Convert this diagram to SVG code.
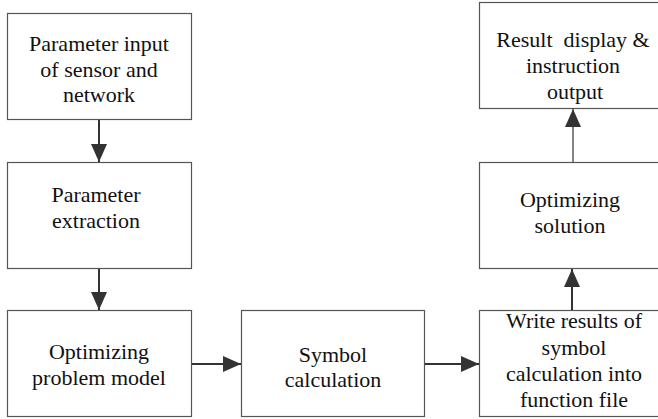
<svg xmlns="http://www.w3.org/2000/svg" width="658" height="419" viewBox="0 0 658 419">
<defs>
<style>
.box{fill:#fff;stroke:#555;stroke-width:1.2}
.t{font-family:'Liberation Serif','Times New Roman',Times,Tinos,'DejaVu Serif',serif;font-size:22px;fill:#111;text-anchor:middle}
.c{stroke:#333;stroke-width:2;fill:none}
.thin{stroke-width:1.2}
</style>
<marker id="ah" markerUnits="userSpaceOnUse" markerWidth="18" markerHeight="16" refX="18" refY="8" orient="auto">
<path d="M0,0 L18,8 L0,16 z" fill="#333"/>
</marker>
</defs>
<rect width="658" height="419" fill="#fff"/>
<g id="n1"><rect class="box" x="7.5" y="13.5" width="184" height="106"/>
<text class="t" font-family="Liberation Serif, serif"><tspan x="99" y="51">Parameter input</tspan><tspan x="99" y="77">of sensor and</tspan><tspan x="99" y="102">network</tspan></text></g>
<g id="n2"><rect class="box" x="7.5" y="162.5" width="184" height="106"/>
<text class="t"><tspan x="96" y="202">Parameter</tspan><tspan x="96" y="228">extraction</tspan></text></g>
<g id="n3"><rect class="box" x="7.5" y="310.5" width="184" height="106"/>
<text class="t"><tspan x="99" y="359">Optimizing</tspan><tspan x="99" y="385">problem model</tspan></text></g>
<g id="n4"><rect class="box" x="241.5" y="310.5" width="183" height="106"/>
<text class="t"><tspan x="333" y="362">Symbol</tspan><tspan x="333" y="387">calculation</tspan></text></g>
<g id="n5"><rect class="box" x="479.5" y="310.5" width="180" height="106"/>
<text class="t"><tspan x="574" y="328">Write results of</tspan><tspan x="574" y="355">symbol</tspan><tspan x="574" y="381">calculation into</tspan><tspan x="574" y="407">function file</tspan></text></g>
<g id="n6"><rect class="box" x="479.5" y="162.5" width="180" height="106"/>
<text class="t"><tspan x="570" y="207">Optimizing</tspan><tspan x="570" y="233">solution</tspan></text></g>
<g id="n7"><rect class="box" x="479.5" y="2.5" width="180" height="106"/>
<text class="t" xml:space="preserve"><tspan x="573" y="47">Result  display &amp;</tspan><tspan x="573" y="73">instruction</tspan><tspan x="575" y="99">output</tspan></text></g>
<g id="connectors">
<line class="c" x1="99" y1="120" x2="99" y2="162" marker-end="url(#ah)"/>
<line class="c" x1="99" y1="269" x2="99" y2="310" marker-end="url(#ah)"/>
<line class="c" x1="192" y1="364" x2="241" y2="364" marker-end="url(#ah)"/>
<line class="c" x1="425" y1="364" x2="479" y2="364" marker-end="url(#ah)"/>
<line class="c" x1="572" y1="310" x2="572" y2="269" marker-end="url(#ah)"/>
<line class="c thin" x1="573" y1="162" x2="573" y2="109" marker-end="url(#ah)"/>
</g>
</svg>
